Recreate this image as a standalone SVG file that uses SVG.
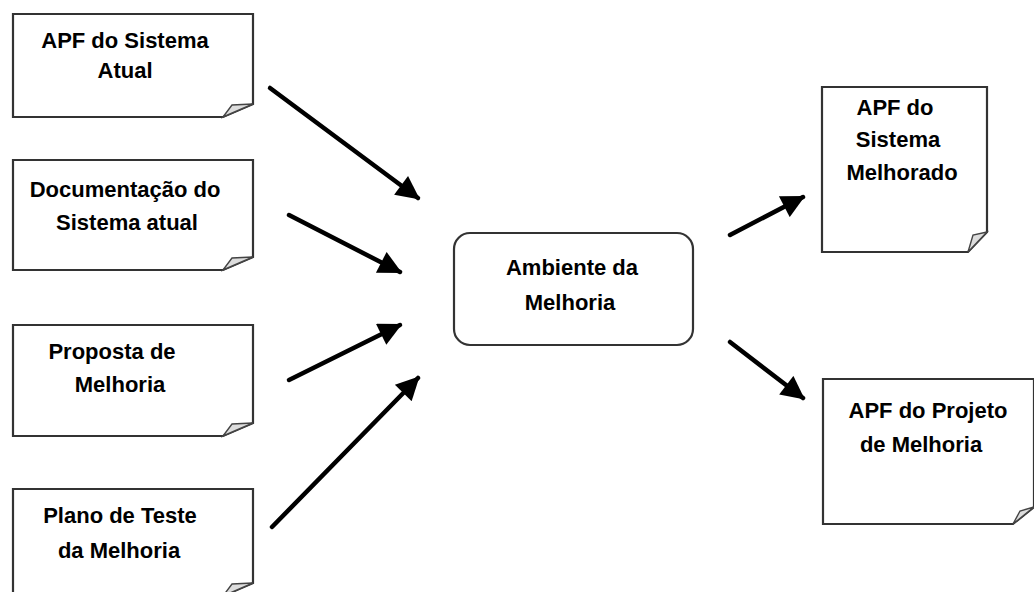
<svg xmlns="http://www.w3.org/2000/svg" width="1034" height="592" viewBox="0 0 1034 592">
<style>
.doc{fill:#fff;stroke:#333;stroke-width:2.2;stroke-linejoin:miter}
.flap{fill:#ddd;stroke:#444;stroke-width:1.4}
.box{fill:#fff;stroke:#333;stroke-width:2.2}
text{font-family:"Liberation Sans",Arial,sans-serif;font-weight:bold;font-size:22px;fill:#000;text-anchor:middle}
.arr{stroke:#000;stroke-width:4.5;stroke-linecap:round;fill:none;marker-end:url(#ah)}
</style>
<defs>
<marker id="ah" viewBox="0 0 10 10" refX="9" refY="5" markerWidth="5.6" markerHeight="5.2" orient="auto" markerUnits="strokeWidth">
<path d="M0,0 L10,5 L0,10 Z" fill="#000"/>
</marker>
</defs>
<rect width="1034" height="592" fill="#fff"/>
<g id="connectors">
<line class="arr" x1="270" y1="88" x2="418" y2="198"/>
<line class="arr" x1="289" y1="215" x2="400" y2="272"/>
<line class="arr" x1="289" y1="380" x2="400" y2="325"/>
<line class="arr" x1="272" y1="527" x2="418" y2="378"/>
<line class="arr" x1="730" y1="235" x2="803" y2="197"/>
<line class="arr" x1="730" y1="342" x2="803" y2="398"/>
</g>
<g id="n1">
<path class="doc" d="M13,14 H253 V104 L223,117 H13 Z"/>
<path class="flap" d="M223,117 L232,105 L253,104 Z"/>
<text x="125" y="48">APF do Sistema</text>
<text x="125" y="78">Atual</text>
</g>
<g id="n2">
<path class="doc" d="M13,160 H253 V257 L223,270 H13 Z"/>
<path class="flap" d="M223,270 L232,258 L253,257 Z"/>
<text x="125" y="197">Documentação do</text>
<text x="127" y="230">Sistema atual</text>
</g>
<g id="n3">
<path class="doc" d="M13,325 H253 V423 L223,436 H13 Z"/>
<path class="flap" d="M223,436 L232,424 L253,423 Z"/>
<text x="112" y="359">Proposta de</text>
<text x="120" y="392">Melhoria</text>
</g>
<g id="n4">
<path class="doc" d="M13,489 H253 V583 L223,596 H13 Z"/>
<path class="flap" d="M223,596 L232,584 L253,583 Z"/>
<text x="120" y="523">Plano de Teste</text>
<text x="119" y="558">da Melhoria</text>
</g>
<g id="n5">
<rect class="box" x="454" y="233" width="239" height="112" rx="16" ry="16"/>
<text x="572" y="275">Ambiente da</text>
<text x="570" y="310">Melhoria</text>
</g>
<g id="n6">
<path class="doc" d="M822,87 H987 V232 L968,252 H822 Z"/>
<path class="flap" d="M968,252 L973,235 L987,232 Z"/>
<text x="895" y="115">APF do</text>
<text x="898" y="147">Sistema</text>
<text x="902" y="180">Melhorado</text>
</g>
<g id="n7">
<path class="doc" d="M823,379 H1034 V507 L1013,524 H823 Z"/>
<path class="flap" d="M1013,524 L1020,511 L1034,507 Z"/>
<text x="928" y="418">APF do Projeto</text>
<text x="921" y="452">de Melhoria</text>
</g>
</svg>
